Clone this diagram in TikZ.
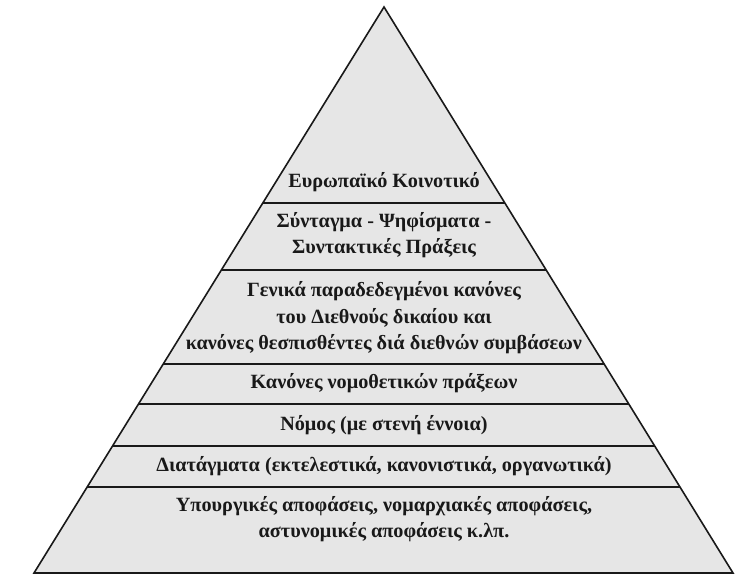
\documentclass[tikz,border=0pt]{standalone}
\usepackage{fontspec}
\setmainfont{Liberation Serif}
\usetikzlibrary{calc}
\definecolor{pyrfill}{RGB}{230,230,230}
\begin{document}
\begin{tikzpicture}[x=1bp,y=-1bp,
  layertext/.style={font=\fontsize{20.3}{26.5}\selectfont\bfseries, align=center, inner sep=0pt, text=black!90},
  sepline/.style={line width=1.6bp, black!90},
  outline/.style={line width=1.6bp, black!90, line join=miter}]
\useasboundingbox (0,0) rectangle (748,577);
\coordinate (apex) at (384,7);
\coordinate (bl) at (34,573);
\coordinate (br) at (733,573);
\fill[pyrfill] (apex) -- (bl) -- (br) -- cycle;
\foreach \y in {203,270,364,404,446,487} {
  \draw[sepline] ($(apex)!{(\y-7)/566}!(bl)$) -- ($(apex)!{(\y-7)/566}!(br)$);
}
\draw[outline] (apex) -- (bl) -- (br) -- cycle;
\node[layertext] (t1) at (384,182) {Ευρωπαϊκό Κοινοτικό};
\node[layertext] (t2) at (384,235) {Σύνταγμα - Ψηφίσματα -\\Συντακτικές Πράξεις};
\node[layertext] (t3) at (384,318) {Γενικά παραδεδεγμένοι κανόνες\\του Διεθνούς δικαίου και\\κανόνες θεσπισθέντες διά διεθνών συμβάσεων};
\node[layertext] (t4) at (384,383) {Κανόνες νομοθετικών πράξεων};
\node[layertext] (t5) at (384,425) {Νόμος (με στενή έννοια)};
\node[layertext] (t6) at (384,466) {Διατάγματα (εκτελεστικά, κανονιστικά, οργανωτικά)};
\node[layertext] (t7) at (384,519) {Υπουργικές αποφάσεις, νομαρχιακές αποφάσεις,\\αστυνομικές αποφάσεις κ.λπ.};
\end{tikzpicture}
\end{document}
